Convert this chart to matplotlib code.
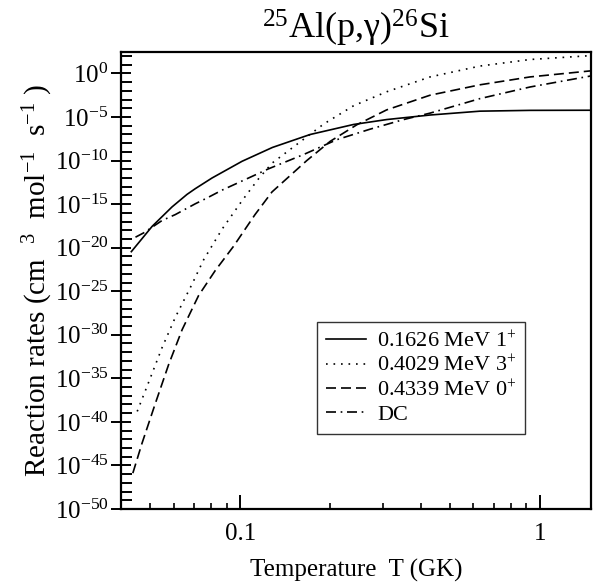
import numpy as np
import matplotlib
matplotlib.use('Agg')
import matplotlib.pyplot as plt
from matplotlib.ticker import FixedLocator, FuncFormatter, NullFormatter

plt.rcParams['font.family'] = ['Liberation Serif', 'DejaVu Serif']
plt.rcParams['mathtext.fontset'] = 'custom'
plt.rcParams['mathtext.rm'] = 'Liberation Serif'
plt.rcParams['mathtext.it'] = 'Liberation Serif:italic'
plt.rcParams['mathtext.bf'] = 'Liberation Serif:bold'

# temperature (GK) and rates (cm^3 mol^-1 s^-1)
T_1626 = [0.0433, 0.0508, 0.0592, 0.0664, 0.0708, 0.0805, 0.1014, 0.128,
          0.171, 0.239, 0.308, 0.43, 0.631, 0.927, 1.48]
R_1626 = [3.5e-21, 2.8e-18, 4.8e-16, 1.3e-14, 6.0e-14, 1.0e-12, 8.3e-11,
          3.2e-9, 9.8e-8, 1.4e-6, 5.1e-6, 1.7e-5, 4.7e-5, 5.8e-5, 6.0e-5]

T_4029 = [0.0453, 0.0494, 0.0548, 0.0607, 0.069, 0.0755, 0.0869, 0.1014,
          0.115, 0.1276, 0.155, 0.19, 0.239, 0.308, 0.43, 0.631, 0.927, 1.48]
R_4029 = [1.6e-39, 3.2e-36, 3.2e-32, 1.0e-28, 6.3e-25, 4.2e-22, 1.3e-18,
          2.5e-15, 7.9e-13, 5.0e-11, 7.9e-9, 1.6e-6, 2.0e-4, 7.9e-3, 0.40,
          7.1, 40, 112]

T_4339 = [0.0438, 0.047, 0.0521, 0.0577, 0.064, 0.0726, 0.0826, 0.0869,
          0.0949, 0.112, 0.1276, 0.1667, 0.1995, 0.245, 0.308, 0.43, 0.631,
          0.927, 1.48]
R_4339 = [1.3e-46, 3.5e-43, 1.4e-38, 4.0e-34, 4.0e-30, 3.2e-26, 2.5e-23,
          2.5e-22, 1.4e-20, 6.3e-17, 2.5e-14, 1.0e-10, 1.6e-8, 1.3e-6,
          6.6e-5, 3.2e-3, 5.0e-2, 0.40, 2.0]

T_DC = [0.0447, 0.0476, 0.0548, 0.0607, 0.0708, 0.0774, 0.0869, 0.1066,
        0.124, 0.1626, 0.21, 0.271, 0.35, 0.43, 0.631, 0.927, 1.48]
R_DC = [1.6e-19, 5.0e-19, 1.3e-17, 6.3e-17, 1.1e-15, 5.0e-15, 4.0e-14,
        1.0e-12, 1.1e-11, 4.9e-10, 2.5e-8, 4.0e-7, 5.0e-6, 2.8e-5, 1.3e-3,
        2.8e-2, 0.52]

labels = ['0.1626 MeV 1$^{+}$', '0.4029 MeV 3$^{+}$',
          '0.4339 MeV 0$^{+}$', 'DC']

fig = plt.figure(figsize=(6.03, 5.86), dpi=100)
ax = fig.add_axes([0.2007, 0.1314, 0.7793, 0.7804])

lw = 1.2
ax.plot(T_1626, R_1626, color='k', lw=lw, ls='-', label=labels[0])
ax.plot(T_4029, R_4029, color='k', lw=lw, ls=(0, (1, 3.5)), label=labels[1])
ax.plot(T_4339, R_4339, color='k', lw=lw, ls=(0, (6, 3)), label=labels[2])
ax.plot(T_DC, R_DC, color='k', lw=lw, ls=(0, (6, 2.8, 1, 2.8)), label=labels[3])

ax.set_xscale('log')
ax.set_yscale('log')
ax.set_xlim(0.04, 1.48)
ax.set_ylim(1e-50, 10 ** 2.5)

ax.yaxis.set_major_locator(FixedLocator(10.0 ** np.arange(-50, 1, 5)))
ax.yaxis.set_minor_locator(FixedLocator(10.0 ** np.arange(-50, 3)))
ax.yaxis.set_major_formatter(FuncFormatter(
    lambda v, p: r'$10^{%d}$' % int(round(np.log10(v)))))
ax.yaxis.set_minor_formatter(NullFormatter())

ax.xaxis.set_major_locator(FixedLocator([0.1, 1]))
ax.xaxis.set_minor_locator(FixedLocator([0.05, 0.06, 0.07, 0.08, 0.09,
                                         0.2, 0.3, 0.4, 0.5, 0.6, 0.7, 0.8, 0.9]))
ax.xaxis.set_major_formatter(FuncFormatter(lambda v, p: '%g' % v))
ax.xaxis.set_minor_formatter(NullFormatter())

ax.tick_params(axis='y', which='major', direction='inout', length=14,
               width=1.4, labelsize=18, pad=2, right=False)
ax.tick_params(axis='y', which='minor', direction='in', length=8,
               width=1.4, right=False)
ax.tick_params(axis='x', which='major', direction='in', length=10,
               width=1.4, labelsize=18, pad=10, top=False)
ax.tick_params(axis='x', which='minor', direction='in', length=4.5,
               width=1.2, top=False)
for s in ax.spines.values():
    s.set_linewidth(1.6)

ax.set_xlabel('Temperature  T (GK)', fontsize=18, labelpad=10)
ax.set_ylabel('Reaction rates (cm  $^{3}$  mol$^{-1}$  s$^{-1}$ )', fontsize=21,
              labelpad=0)
ax.set_title(r'$^{25}$Al(p,γ)$^{26}$Si', fontsize=26, pad=9)

leg = ax.legend(loc='lower left', bbox_to_anchor=(0.417, 0.164),
                borderaxespad=0, fontsize=16, frameon=True, fancybox=False,
                edgecolor='k', handlelength=1.8, handletextpad=0.5,
                labelspacing=0.15, borderpad=0.4)
leg.get_frame().set_linewidth(1.0)

fig.savefig('out.png', dpi=100)
